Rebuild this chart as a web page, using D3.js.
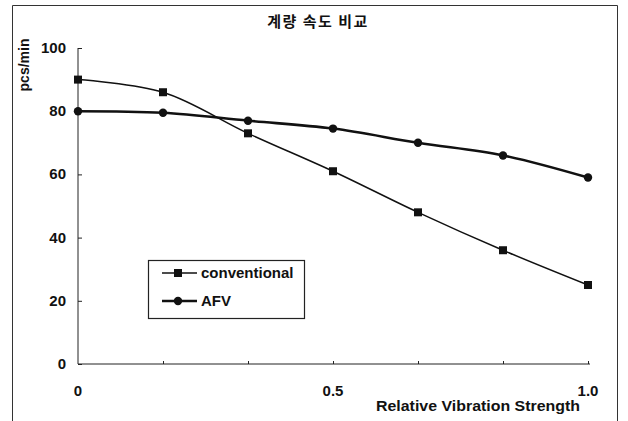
<!DOCTYPE html>
<html><head><meta charset="utf-8">
<script src="https://cdn.jsdelivr.net/npm/d3@7"></script>
<style>body{margin:0;background:#fff}svg{display:block}text{font-family:"Liberation Sans",Arial,sans-serif;font-weight:bold;fill:#111}</style>
</head><body><svg id="c" width="628" height="421"></svg>
<script>
const xValues = [0, 1/6, 2/6, 3/6, 4/6, 5/6, 1];
const conventional = [90, 86, 73, 61, 48, 36, 25];
const afv = [80, 79.5, 77, 74.5, 70, 66, 59];
const yTicks = [0, 20, 40, 60, 80, 100];
const xTickLabels = [{v:0,t:"0"},{v:0.5,t:"0.5"},{v:1,t:"1.0"}];
const seriesNames = ["conventional", "AFV"];
const title = "계량 속도 비교";

const svg = d3.select("#c");
// outer frame
svg.append("path").attr("d","M12.5,421 V5.5 H617.5 V421").attr("fill","none").attr("stroke","#333").attr("stroke-width",1);

const x = d3.scaleLinear().domain([0,1]).range([78,588]);
const y = d3.scaleLinear().domain([0,100]).range([364,48]);

// title
svg.append("text").attr("x",318).attr("y",27).attr("text-anchor","middle")
  .style("font-family","'Noto Sans CJK KR',sans-serif").style("font-size","15px").style("font-weight","bold")
  .style("letter-spacing","1.5px").text(title);

// y axis
const ya = svg.append("g").attr("transform","translate(78,0)")
  .call(d3.axisRight(y).tickValues(yTicks).tickSize(4).tickFormat(""));
ya.select(".domain").attr("stroke","#222").attr("d","M0,48 V364");
ya.selectAll(".tick line").attr("stroke","#222");
svg.selectAll(".ylab").data(yTicks).join("text").attr("class","ylab")
  .attr("x",66).attr("y",d=>y(d)+5).attr("text-anchor","end").style("font-size","15px").text(d=>d);

// x axis
const xa = svg.append("g").attr("transform","translate(0,364)")
  .call(d3.axisTop(x).tickValues(xValues.slice(1)).tickSize(3).tickFormat(""));
xa.select(".domain").attr("stroke","#222").attr("d","M78,0 H590");
xa.selectAll(".tick line").attr("stroke","#222");
svg.selectAll(".xlab").data(xTickLabels).join("text").attr("class","xlab")
  .attr("x",d=>x(d.v)).attr("y",396).attr("text-anchor","middle").style("font-size","15px").text(d=>d.t);
svg.append("text").attr("x",376).attr("y",411).attr("textLength",204).attr("lengthAdjust","spacingAndGlyphs")
  .style("font-size","15px").text("Relative Vibration Strength");

// y label
svg.append("text").attr("transform","translate(29,65) rotate(-90)").attr("text-anchor","middle")
  .style("font-size","14px").text("pcs/min");

// lines
const line = d3.line().x(d=>x(d[0])).y(d=>y(d[1])).curve(d3.curveCatmullRom.alpha(0.5));
const convData = xValues.map((v,i)=>[v,conventional[i]]);
const afvData = xValues.map((v,i)=>[v,afv[i]]);
svg.append("path").attr("d",line(convData)).attr("fill","none").attr("stroke","#111").attr("stroke-width",1.5);
svg.append("path").attr("d",line(afvData)).attr("fill","none").attr("stroke","#111").attr("stroke-width",2.6);
svg.selectAll(".sq").data(convData).join("rect").attr("class","sq")
  .attr("x",d=>x(d[0])-4).attr("y",d=>y(d[1])-4).attr("width",8).attr("height",8).attr("fill","#111");
svg.selectAll(".ci").data(afvData).join("circle").attr("class","ci")
  .attr("cx",d=>x(d[0])).attr("cy",d=>y(d[1])).attr("r",4.2).attr("fill","#111");

// legend
const lg = svg.append("g");
lg.append("rect").attr("x",148.5).attr("y",260.5).attr("width",156).attr("height",58).attr("fill","#fff").attr("stroke","#222").attr("stroke-width",1.2);
const rows = [{n:seriesNames[0],yy:273,w:1.5,m:"sq"},{n:seriesNames[1],yy:301,w:2.6,m:"ci"}];
rows.forEach(r=>{
  lg.append("line").attr("x1",162).attr("x2",197).attr("y1",r.yy).attr("y2",r.yy).attr("stroke","#111").attr("stroke-width",r.w);
  if(r.m==="sq") lg.append("rect").attr("x",174).attr("y",r.yy-4).attr("width",8).attr("height",8).attr("fill","#111");
  else lg.append("circle").attr("cx",178).attr("cy",r.yy).attr("r",4.2).attr("fill","#111");
  lg.append("text").attr("x",201).attr("y",r.yy+5).style("font-size","15px").text(r.n);
});
</script></body></html>
